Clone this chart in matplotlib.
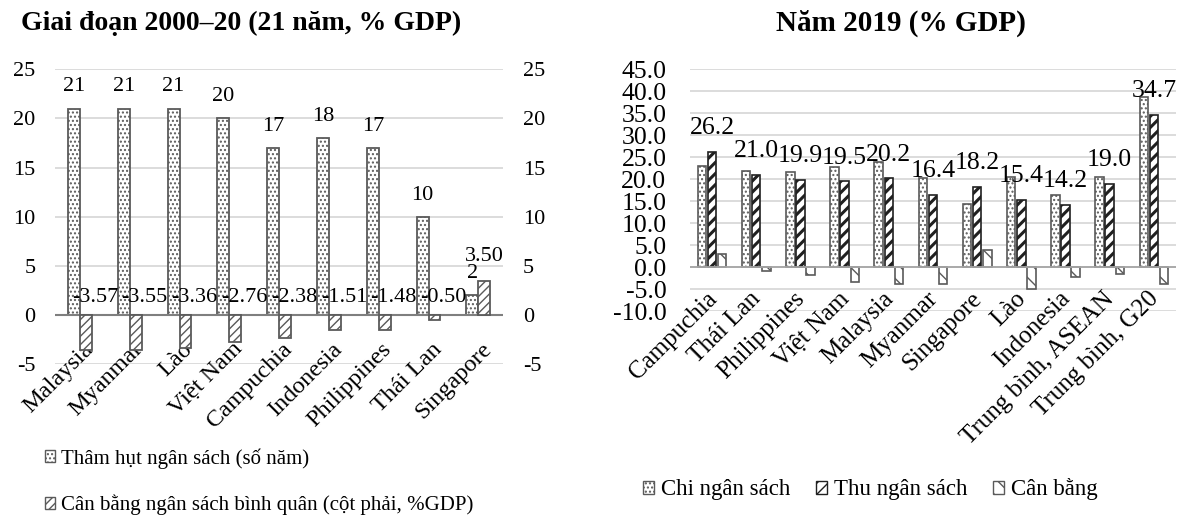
import matplotlib
matplotlib.use("Agg")
import matplotlib.pyplot as plt
import numpy as np
from matplotlib.patches import Patch

plt.rcParams['font.family'] = ['Liberation Serif', 'DejaVu Serif']
plt.rcParams['hatch.linewidth'] = 1.0
plt.rcParams['axes.unicode_minus'] = False

# ---- data: left panel (2000-20)
left_countries = ['Malaysia', 'Myanmar', 'Lào', 'Việt Nam', 'Campuchia',
                  'Indonesia', 'Philippines', 'Thái Lan', 'Singapore']
deficit_years = [21, 21, 21, 20, 17, 18, 17, 10, 2]
avg_balance = [-3.57, -3.55, -3.36, -2.76, -2.38, -1.51, -1.48, -0.50, 3.50]

# ---- data: right panel (2019)
right_countries = ['Campuchia', 'Thái Lan', 'Philippines', 'Việt Nam', 'Malaysia',
                   'Myanmar', 'Singapore', 'Lào', 'Indonesia',
                   'Trung bình, ASEAN', 'Trung bình, G20']
spending = [23.1, 21.9, 21.7, 22.9, 23.9, 20.4, 14.3, 20.5, 16.4, 20.6, 38.7]
revenue = [26.2, 21.0, 19.9, 19.5, 20.2, 16.4, 18.2, 15.4, 14.2, 19.0, 34.7]
balance = [3.1, -0.9, -1.8, -3.4, -3.7, -3.9, 4.0, -5.0, -2.3, -1.5, -3.9]

EDGE = '#5a5a5a'
GRID = '#d9d9d9'

fig = plt.figure(figsize=(11.84, 5.15), dpi=100)

# ================= left panel =================
ax = fig.add_axes([0.0465, 0.293, 0.3785, 0.5725])
ax2 = ax.twinx()
x = np.arange(len(left_countries))
w = 0.24
ax.bar(x - w / 2, deficit_years, w, color='white', edgecolor=EDGE, hatch='....', lw=1.3, zorder=3)
ax2.bar(x + w / 2, avg_balance, w, color='white', edgecolor=EDGE, hatch='////', lw=1.3, zorder=3)
for a in (ax, ax2):
    a.set_ylim(-5, 25)
    a.set_xlim(-0.5, len(x) - 0.5)
    a.set_yticks(range(-5, 26, 5))
    a.tick_params(length=0, labelsize=16)
    for s in a.spines.values():
        s.set_visible(False)
ax.tick_params(axis='y', pad=14)
ax2.tick_params(axis='y', pad=14)
ax.set_xticks([])
ax.grid(axis='y', color=GRID, lw=1.3, zorder=0)
ax.axhline(0, color='#7f7f7f', lw=1.5, zorder=4)
for i, v in enumerate(deficit_years):
    ax.text(i - w / 2, v + 2.2, str(v), ha='center', va='center', fontsize=16, zorder=5)
for i, v in enumerate(avg_balance):
    if v >= 0:
        ax2.text(i + w / 2, v + 2.4, f'{v:.2f}', ha='center', va='center', fontsize=16, zorder=5)
    else:
        ax2.text(i + 0.3, 1.8, f'{v:.2f}', ha='center', va='center', fontsize=16, zorder=5)
for i, name in enumerate(left_countries):
    ax.text(i + 0.05, -2.4, name, rotation=45, ha='right', va='top',
            rotation_mode='anchor', fontsize=17.5)

fig.text(0.204, 0.955, 'Giai đoạn 2000–20 (21 năm, % GDP)', ha='center', va='center',
         fontsize=20, fontweight='bold')

leg1 = fig.legend(handles=[Patch(facecolor='white', edgecolor=EDGE, hatch='....'),
                           Patch(facecolor='white', edgecolor=EDGE, hatch='////')],
                  labels=['Thâm hụt ngân sách (số năm)',
                          'Cân bằng ngân sách bình quân (cột phải, %GDP)'],
                  loc='center left', bbox_to_anchor=(0.022, 0.065), frameon=False,
                  fontsize=15, handlelength=0.5, handleheight=0.5, handletextpad=0.3,
                  labelspacing=1.25)

# ================= right panel =================
bx = fig.add_axes([0.5828, 0.3955, 0.4104, 0.47])
xr = np.arange(len(right_countries))
wr = 0.19
off = 0.23
bx.bar(xr - off, spending, wr, color='white', edgecolor=EDGE, hatch='....', lw=1.2, zorder=3)
with plt.rc_context({'hatch.linewidth': 2.2}):
    bx.bar(xr, revenue, wr, color='white', edgecolor='#202020', hatch='///', lw=1.2, zorder=3)
bx.bar(xr + off, balance, wr, color='white', edgecolor=EDGE, hatch='\\\\', lw=1.2, zorder=3)
bx.set_ylim(-10, 45)
bx.set_xlim(-0.5, len(xr) - 0.5)
bx.set_yticks(np.arange(-10, 46, 5))
bx.set_yticklabels([f'{t:.1f}' for t in np.arange(-10, 46, 5)])
bx.tick_params(length=0, labelsize=18.5, pad=17)
bx.set_xticks([])
for s in bx.spines.values():
    s.set_visible(False)
bx.grid(axis='y', color=GRID, lw=1.3, zorder=0)
bx.axhline(0, color='#a6a6a6', lw=1.3, zorder=4)
for i, v in enumerate(revenue):
    bx.text(i, v + 5.4, f'{v:.1f}', ha='center', va='center', fontsize=18.5, zorder=5)
for i, name in enumerate(right_countries):
    bx.text(i - 0.15, -4.6, name, rotation=45, ha='right', va='top',
            rotation_mode='anchor', fontsize=18)

fig.text(0.761, 0.955, 'Năm 2019 (% GDP)', ha='center', va='center',
         fontsize=21, fontweight='bold')

with plt.rc_context({'hatch.linewidth': 2.0}):
    thu_patch = Patch(facecolor='white', edgecolor='#202020', hatch='///')
leg2 = fig.legend(handles=[Patch(facecolor='white', edgecolor=EDGE, hatch='....'),
                           thu_patch,
                           Patch(facecolor='white', edgecolor=EDGE, hatch='\\\\')],
                  labels=['Chi ngân sách', 'Thu ngân sách', 'Cân bằng'],
                  loc='center', bbox_to_anchor=(0.735, 0.05), frameon=False, ncol=3,
                  fontsize=16.5, handlelength=0.5, handleheight=0.5, handletextpad=0.3,
                  columnspacing=1.1)

fig.savefig('out.png', dpi=100)
